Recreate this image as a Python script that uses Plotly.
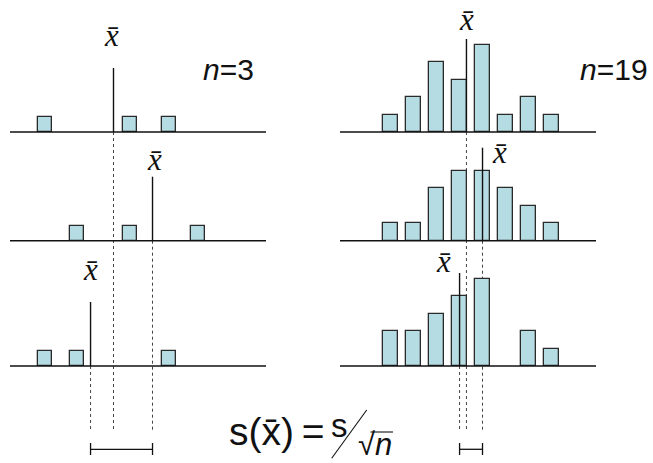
import plotly.graph_objects as go

# ---- data -------------------------------------------------------------
# three samples of size n = 3 (individual observations)
n3_samples = [
    [0.3, 4.0, 5.7],
    [1.7, 4.0, 7.0],
    [0.3, 1.7, 5.7],
]
n3_means = [3.3, 5.0, 2.3]

# three samples of size n = 19 (histogram counts per bin)
bin_centers = [1, 2, 3, 4, 5, 6, 7, 8]
n19_counts = [
    [1, 2, 4, 3, 5, 1, 2, 1],
    [1, 1, 3, 4, 4, 3, 2, 1],
    [2, 2, 3, 4, 5, 0, 2, 1],
]
n19_means = [4.3, 5.0, 4.0]

sample_sizes = [3, 19]

# ---- layout constants -------------------------------------------------
W, H = 653, 463
UNIT = 17.5                     # pixels per count on the vertical axis
X_RANGE = [-1.21, 9.945]
ROW_BASELINE_PX = [132, 240.7, 366]
FILL = "#b5dce2"
EDGE = "#2a2a2a"
INK = "#111111"


def ypx(px):
    """vertical pixel position -> y-axis value"""
    return (H - px) / UNIT


def xp(px):
    return px / W


def yp(px):
    return 1 - px / H


row_base = [ypx(b) for b in ROW_BASELINE_PX]
SQ_H = 15 / UNIT                # height of one observation box
MEAN_H = [64 / UNIT, 93 / UNIT]  # height of the mean marker line per column
DOT_END = ypx(430)
RANGE_Y = ypx(449.3)
CAP = [ypx(443), ypx(455)]

fig = go.Figure()

for r in range(3):
    fig.add_trace(go.Bar(
        x=n3_samples[r], y=[SQ_H] * len(n3_samples[r]), base=row_base[r],
        width=0.61, xaxis="x", yaxis="y",
        marker=dict(color=FILL, line=dict(color=EDGE, width=1.3)),
        hoverinfo="skip"))
    xs = [c for c, k in zip(bin_centers, n19_counts[r]) if k > 0]
    ks = [k for k in n19_counts[r] if k > 0]
    fig.add_trace(go.Bar(
        x=xs, y=ks, base=row_base[r],
        width=0.63, xaxis="x2", yaxis="y",
        marker=dict(color=FILL, line=dict(color=EDGE, width=1.3)),
        hoverinfo="skip"))

shapes = []
columns = [("x", n3_means, MEAN_H[0]), ("x2", n19_means, MEAN_H[1])]
for xref, means, mh in columns:
    for r in range(3):
        # baseline of the panel
        shapes.append(dict(type="line", xref=f"{xref} domain", yref="y",
                           x0=0, x1=1, y0=row_base[r], y1=row_base[r],
                           line=dict(color=INK, width=1.4), layer="above"))
        # solid mean marker
        shapes.append(dict(type="line", xref=xref, yref="y",
                           x0=means[r], x1=means[r],
                           y0=row_base[r], y1=row_base[r] + mh,
                           line=dict(color=INK, width=1.4), layer="above"))
        # dotted projection of the mean
        shapes.append(dict(type="line", xref=xref, yref="y",
                           x0=means[r], x1=means[r],
                           y0=row_base[r], y1=DOT_END,
                           line=dict(color="#444444", width=1, dash="dot"),
                           layer="below"))
    # spread of the sample means
    lo, hi = min(means), max(means)
    shapes.append(dict(type="line", xref=xref, yref="y", x0=lo, x1=hi,
                       y0=RANGE_Y, y1=RANGE_Y,
                       line=dict(color=INK, width=1.3)))
    for xv in (lo, hi):
        shapes.append(dict(type="line", xref=xref, yref="y", x0=xv, x1=xv,
                           y0=CAP[0], y1=CAP[1],
                           line=dict(color=INK, width=1.3)))

# fraction slash and radical bar of the formula
shapes.append(dict(type="line", xref="paper", yref="paper",
                   x0=xp(331.7), y0=yp(458.3), x1=xp(366.7), y1=yp(410),
                   line=dict(color=INK, width=1.1)))
shapes.append(dict(type="line", xref="paper", yref="paper",
                   x0=xp(370.5), y0=yp(432), x1=xp(393), y1=yp(432),
                   line=dict(color=INK, width=1.1)))

annotations = []
XBAR = "<i>x\u0304</i>"
label_shift = [
    [(-2, 33), (2, 17), (0, 33)],
    [(0, None), (17, -5), (-16, 12)],
]
for c, (xref, means, mh) in enumerate(columns):
    for r in range(3):
        dx, dy = label_shift[c][r]
        font = dict(family="Liberation Serif", size=31, color=INK)
        if dy is None:
            # label pinned to the top edge of the canvas
            annotations.append(dict(
                x=means[r], y=1, xref=xref, yref="paper",
                text=XBAR, showarrow=False, xanchor="center", yanchor="top",
                xshift=dx, yshift=0, font=font))
        else:
            annotations.append(dict(
                x=means[r], y=row_base[r] + mh, xref=xref, yref="y",
                text=XBAR, showarrow=False, xanchor="center",
                yanchor="middle", xshift=dx, yshift=dy, font=font))

for xpix, n in zip([201, 577.5], sample_sizes):
    annotations.append(dict(
        x=xp(xpix), y=yp(69), xref="paper", yref="paper",
        text=f"<i>n</i>={n}", showarrow=False, xanchor="left",
        yanchor="middle",
        font=dict(family="Liberation Sans", size=30, color=INK)))

annotations.append(dict(
    x=xp(227), y=yp(431), xref="paper", yref="paper",
    text="s(x\u0304)\u2009=", showarrow=False, xanchor="left",
    yanchor="middle",
    font=dict(family="Liberation Sans", size=39, color=INK)))
annotations.append(dict(
    x=xp(339), y=yp(425), xref="paper", yref="paper",
    text="s", showarrow=False, xanchor="center", yanchor="middle",
    font=dict(family="Liberation Sans", size=33, color=INK)))
annotations.append(dict(
    x=xp(375), y=0, xref="paper", yref="paper",
    text="\u221a<i>n</i>", showarrow=False, xanchor="center",
    yanchor="bottom", borderpad=0,
    font=dict(family="Liberation Sans", size=31, color=INK)))

axis_off = dict(visible=False, showgrid=False, zeroline=False, fixedrange=True)
fig.update_layout(
    width=W, height=H,
    margin=dict(l=0, r=0, t=0, b=0),
    paper_bgcolor="white", plot_bgcolor="white",
    showlegend=False, barmode="overlay", bargap=0,
    xaxis=dict(domain=[10 / W, 266 / W], range=X_RANGE, anchor="y", **axis_off),
    xaxis2=dict(domain=[340 / W, 596 / W], range=X_RANGE, anchor="y", **axis_off),
    yaxis=dict(domain=[0, 1], range=[0, H / UNIT], **axis_off),
    shapes=shapes,
    annotations=annotations,
)

fig.write_html("out.html")
